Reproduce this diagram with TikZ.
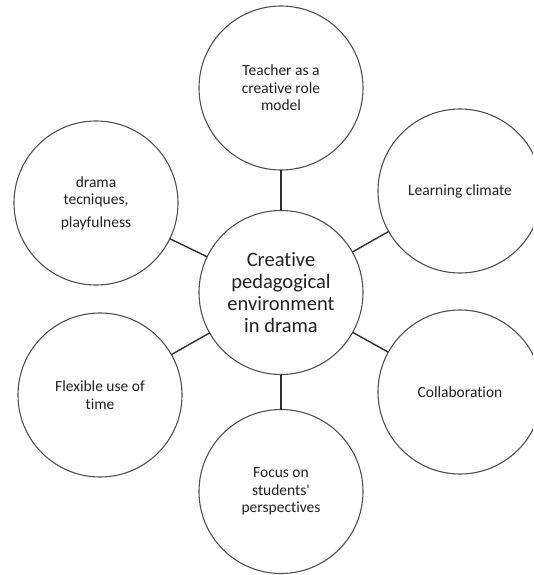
\documentclass[tikz,border=0pt]{standalone}
\usepackage{fontspec}
\setmainfont{Carlito}[RawFeature={-liga;-calt;-dlig}]
\newcommand{\straightapos}{\XeTeXglyph\XeTeXcharglyph"0027\relax}
\definecolor{ringcol}{HTML}{505050}
\definecolor{linkcol}{HTML}{303030}
\definecolor{txtcol}{HTML}{222222}
\begin{document}
\begin{tikzpicture}[x=1pt,y=-1pt,
  bubble/.style={circle,draw=ringcol,line width=1.1pt,minimum size=164pt,inner sep=0pt,outer sep=0pt,
    align=center,text=txtcol,font=\fontsize{15.5}{17.5}\selectfont},
  hub/.style={bubble,font=\fontsize{20.5}{22}\selectfont},
  link/.style={draw=linkcol,line width=1.4pt}]
\useasboundingbox (0,0) rectangle (533,575);
\clip (0,0) rectangle (533,575);
\fill[white] (0,0) rectangle (533,575);
\node[hub] (c) at (281,292.5) {Creative\\pedagogical\\environment\\in drama};
\node[bubble] (t) at (281,88) {Teacher as a\\creative role\\model};
\node[bubble] (ul) at (96,203) {drama\\tecniques,\\[5pt]playfulness};
\node[bubble] (ur) at (460,191) {Learning climate};
\node[bubble] (ll) at (100,395) {Flexible use of\\time};
\node[bubble] (lr) at (460,392) {Collaboration};
\node[bubble] (b) at (281,491.5) {Focus on\\students\straightapos\\perspectives};
\foreach \n in {t,ul,ur,ll,lr,b} \draw[link] (c) -- (\n);
\end{tikzpicture}
\end{document}
